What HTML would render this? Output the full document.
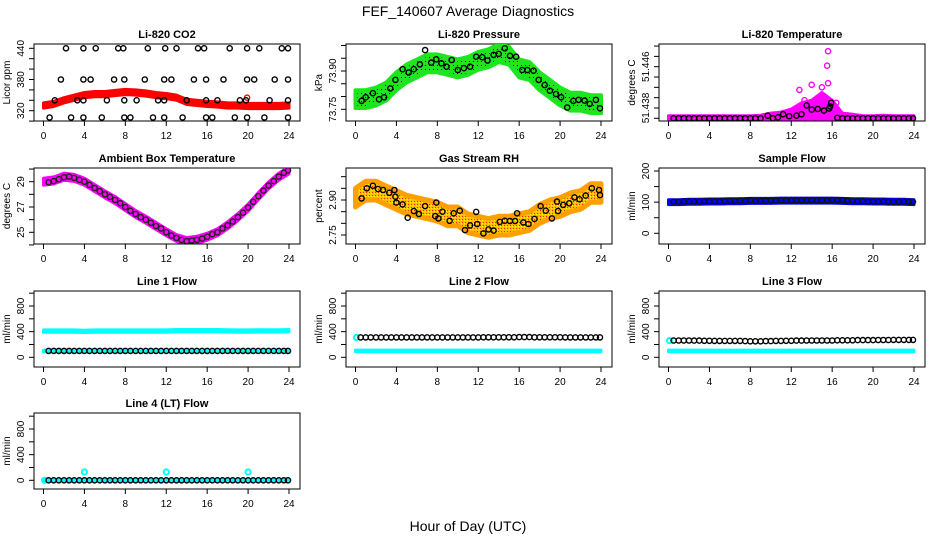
<!DOCTYPE html>
<html><head><meta charset="utf-8"><style>
html,body{margin:0;padding:0;background:#fff}
svg{display:block;font-family:"Liberation Sans",Arial,sans-serif}
</style></head><body>
<svg id="chart" width="936" height="540" viewBox="0 0 936 540" xmlns="http://www.w3.org/2000/svg">
<defs>
<pattern id="pGreen" width="4" height="4" patternUnits="userSpaceOnUse"><rect width="4" height="4" fill="#1ee61e"/><rect x="1" y="1" width="1" height="1" fill="#000"/></pattern>
<pattern id="pOrange" width="3" height="3" patternUnits="userSpaceOnUse"><rect width="3" height="3" fill="#ffc000"/><rect x="0" y="0" width="1" height="1" fill="#ff2000"/><rect x="2" y="1" width="1" height="1" fill="#ffff00"/></pattern>
</defs>
<text x="468" y="16" text-anchor="middle" font-size="14">FEF_140607  Average Diagnostics</text>
<text x="468" y="531" text-anchor="middle" font-size="14">Hour of Day (UTC)</text>
</svg>
<script>
const HOURS=[0,1,2,3,4,5,6,7,8,9,10,11,12,13,14,15,16,17,18,19,20,21,22,23,24];
const HALF=[0.5,1,1.5,2,2.5,3,3.5,4,4.5,5,5.5,6,6.5,7,7.5,8,8.5,9,9.5,10,10.5,11,11.5,12,12.5,13,13.5,14,14.5,15,15.5,16,16.5,17,17.5,18,18.5,19,19.5,20,20.5,21,21.5,22,22.5,23,23.5,23.9];
const X_TICKS=[0,4,8,12,16,20,24];

// CO2
const co2Band=[330,333,340,345,350,352,352,354,356,355,353,350,348,345,337,335,333,332,330,330,329,329,329,329,330];
const co2Hours=[2.2,3.9,5.1,7.3,7.8,10.2,11.9,13.0,15.1,15.7,18.2,19.9,21.1,23.3,23.9,
1.7,3.9,4.6,6.9,7.9,9.9,11.8,12.5,14.7,15.9,17.6,19.9,20.6,22.6,23.9,
1.1,3.3,3.9,6.2,7.9,9.1,11.2,11.8,14.0,15.9,17.0,19.2,19.8,22.1,23.9,
0.6,2.7,3.9,5.7,7.9,8.5,10.7,11.8,13.6,15.9,16.5,18.7,19.9,21.6,23.9];
const co2Vals=[440,440,440,440,440,440,440,440,440,440,440,440,440,440,440,
380,380,380,380,380,380,380,380,380,380,380,380,380,380,380,
340,340,340,340,340,340,340,340,340,340,340,340,340,340,340,
307,307,307,307,307,307,307,307,307,307,307,307,307,307,307];
const co2RedHours=[19.9];
const co2RedVals=[345];

// Pressure
const presBand=[73.79,73.79,73.80,73.82,73.86,73.89,73.91,73.93,73.93,73.92,73.91,73.92,73.94,73.95,73.97,73.96,73.91,73.90,73.86,73.83,73.80,73.78,73.78,73.77,73.77];
const presHours=[0.6,1,1.7,2.3,2.8,3.4,3.9,4.6,5.2,5.7,6.3,6.8,7.4,7.9,8.4,8.9,9.4,10,10.6,11.2,11.8,12.4,12.9,13.5,14,14.6,15.1,15.7,16.3,16.8,17.4,17.9,18.5,19,19.6,20.1,20.7,21.3,21.8,22.4,22.9,23.5,23.9];
const presVals=[73.783,73.797,73.813,73.789,73.797,73.832,73.865,73.907,73.894,73.907,73.926,73.982,73.933,73.946,73.930,73.917,73.943,73.904,73.911,73.917,73.956,73.954,73.941,73.963,73.967,73.989,73.959,73.956,73.904,73.904,73.901,73.865,73.845,73.823,73.810,73.797,73.757,73.783,73.787,73.784,73.771,73.787,73.754];

// Li-820 temperature
const tempLo=[51.4358,51.4358,51.4358,51.4358,51.4358,51.4358,51.4358,51.4358,51.4358,51.4358,51.4358,51.4358,51.4358,51.4358,51.4358,51.4358,51.4358,51.4358,51.4358,51.4358,51.4358,51.4358,51.4358,51.4358,51.4358];
const tempHi=[51.4365,51.4365,51.4365,51.4365,51.4365,51.4365,51.4365,51.4365,51.4365,51.4366,51.437,51.4372,51.4378,51.439,51.4395,51.441,51.4395,51.437,51.4368,51.4365,51.4365,51.4366,51.4365,51.4365,51.4365];
const tempOutHours=[12.8,14.0,15.0,15.5,15.6,15.6,13.3,16.4];
const tempOutVals=[51.4415,51.4425,51.4420,51.4462,51.4490,51.4428,51.4395,51.4390];
const tempHours=[0.5,1,1.5,2,2.5,3,3.5,4,4.5,5,5.5,6,6.5,7,7.5,8,8.5,9,9.7,10.2,10.7,11.2,11.8,12.5,13.0,13.5,14.0,14.6,15.2,15.7,15.8,15.9,16.5,17,17.5,18,18.5,19,19.5,20,20.5,21,21.5,22,22.5,23,23.5,23.9];
const tempVals=[51.436,51.436,51.436,51.436,51.436,51.436,51.436,51.436,51.436,51.436,51.436,51.436,51.436,51.436,51.436,51.436,51.436,51.436,51.4365,51.436,51.4362,51.4368,51.4364,51.4365,51.4368,51.4385,51.4377,51.4378,51.4375,51.4379,51.4383,51.439,51.4361,51.436,51.436,51.436,51.436,51.436,51.436,51.436,51.436,51.436,51.436,51.436,51.436,51.436,51.436,51.436];

// Ambient box temperature
const ambBand=[29.0,29.1,29.4,29.3,29.0,28.5,28.0,27.55,27.0,26.45,26.0,25.5,25.0,24.55,24.3,24.4,24.65,25.0,25.55,26.2,26.95,27.85,28.7,29.4,29.9];
const ambVals=[28.95,29.05,29.2,29.35,29.4,29.3,29.15,29.0,28.75,28.5,28.25,28.0,27.8,27.55,27.3,27.0,26.7,26.45,26.2,26.0,25.75,25.5,25.3,25.0,24.75,24.55,24.4,24.3,24.35,24.4,24.5,24.65,24.85,25.0,25.3,25.55,25.85,26.2,26.55,26.95,27.4,27.85,28.3,28.7,29.05,29.4,29.7,29.9];

// Gas stream RH
const rhBand=[2.91,2.94,2.94,2.92,2.90,2.88,2.87,2.86,2.85,2.83,2.83,2.80,2.79,2.78,2.79,2.79,2.80,2.81,2.84,2.86,2.87,2.89,2.90,2.93,2.93];
const rhHours=[0.6,1.1,1.7,2.2,2.7,3.3,3.8,3.9,4.0,4.6,5.1,5.7,6.2,6.8,7.8,7.9,8.1,8.5,9.2,9.6,10.2,10.7,11.2,11.8,11.9,12.5,13.0,13.5,14.1,14.6,15.1,15.6,15.8,16.4,16.9,17.5,18.1,18.6,19.2,19.7,19.8,20.3,20.9,21.4,21.9,22.5,23.1,23.8,23.9];
const rhVals=[2.907,2.95,2.961,2.947,2.943,2.931,2.943,2.914,2.889,2.881,2.824,2.853,2.84,2.874,2.831,2.889,2.821,2.85,2.811,2.843,2.854,2.771,2.791,2.849,2.797,2.757,2.774,2.769,2.806,2.811,2.81,2.81,2.843,2.804,2.797,2.819,2.874,2.854,2.821,2.893,2.853,2.879,2.886,2.911,2.903,2.919,2.95,2.943,2.921];

// Sample flow
const sampBand=[100,100,101,101,102,102,103,103,104,104,104,105,105,105,105,105,105,104,103,103,102,102,101,101,100];
const sampVals=[101,101,102,102,102,102,103,103,103,103,104,104,104,105,104,105,104,104,105,105,105,106,105,106,106,106,106,106,106,106,106,106,106,106,105,104,103,103,102,103,102,102,101,101,101,102,101,101];

// Line flows
const l1High=[410,410,410,410,405,410,410,410,410,410,410,410,410,415,415,415,415,415,412,410,410,412,412,412,415];
const l1Low=[100,100,100,100,100,100,100,100,100,100,100,100,100,100,100,100,100,100,100,100,100,100,100,100,100];
const l1Vals=[100,100,100,100,100,100,100,100,100,100,100,100,100,100,100,100,100,100,100,100,100,100,100,100,100,100,100,100,100,100,100,100,100,100,100,100,100,100,100,100,100,100,100,100,100,100,100,100];
const l2Low=[100,100,100,100,100,100,100,100,100,100,100,100,100,100,100,100,100,100,100,100,100,100,100,100,100];
const l2Vals=[310,310,310,310,310,310,310,310,310,310,310,310,310,310,310,310,310,310,310,310,310,310,310,310,312,312,312,312,312,312,312,315,315,315,312,312,312,312,312,312,310,310,310,310,310,310,310,310];
const l2CyanHours=[0.1];
const l2CyanVals=[310];
const l3Low=[100,100,100,100,100,100,100,100,100,100,100,100,100,100,100,100,100,100,100,100,100,100,100,100,100];
const l3Vals=[262,262,262,262,260,260,258,258,256,256,256,255,255,255,252,250,250,250,252,252,255,255,258,258,260,260,262,262,262,262,262,262,265,265,265,265,268,268,268,268,270,270,270,272,272,272,272,272];
const l3CyanHours=[0.1];
const l3CyanVals=[260];
const l4Low=[0,0,0,0,0,0,0,0,0,0,0,0,0,0,0,0,0,0,0,0,0,0,0,0,0];
const l4Vals=[0,0,0,0,0,0,0,0,0,0,0,0,0,0,0,0,0,0,0,0,0,0,0,0,0,0,0,0,0,0,0,0,0,0,0,0,0,0,0,0,0,0,0,0,0,0,0,0];
const l4CyanHours=[0.1,4,12,20];
const l4CyanVals=[0,130,130,130];

const NS='http://www.w3.org/2000/svg';
const svg=document.getElementById('chart');
const COLS=[34,346,659];
const ROWS=[[44,121],[168,244],[291,367],[413,489]];
function mk(tag,attrs,parent){const e=document.createElementNS(NS,tag);for(const k in attrs)e.setAttribute(k,attrs[k]);(parent||svg).appendChild(e);return e;}

function panel(p){
  const L=COLS[p.col],R=L+266,T=ROWS[p.row][0],B=ROWS[p.row][1];
  const g=mk('g',{});
  
  
  const sx=h=>L+9.5+h*(245.5/24);
  const sy=v=>p.py0+(v-p.v0)*(p.py1-p.py0)/(p.v1-p.v0);
  // title
  const t=mk('text',{x:(L+R)/2,y:T-6,'text-anchor':'middle','font-size':11,'font-weight':'bold'},g);
  t.textContent=p.title;
  
  
  // frame
  const fr=mk('rect',{x:L,y:T,width:R-L,height:B-T,fill:'none',stroke:'#000','stroke-width':1},g);
  
  
  const cp='clip'+p.name;
  const c=mk('clipPath',{id:cp},g);mk('rect',{x:L,y:T,width:R-L,height:B-T},c);
  const data=mk('g',{'clip-path':'url(#'+cp+')'},g);
  // x axis
  X_TICKS.forEach(h=>{
    mk('line',{x1:sx(h),x2:sx(h),y1:B,y2:B+5,stroke:'#000'},g);
    const tx=mk('text',{x:sx(h),y:B+18,'text-anchor':'middle','font-size':10},g);
    tx.textContent=h;
    
    
  });
  mk('line',{x1:sx(0),x2:sx(24),y1:B,y2:B,stroke:'#000'},g);
  // y axis
  p.ticks.forEach(v=>{const y=sy(v);if(y<T-1||y>B+1)return;mk('line',{x1:L-5,x2:L,y1:y,y2:y,stroke:'#000'},g);});
  p.labels.forEach(v=>{
    const y=sy(v);
    const tl=mk('text',{x:L-10,y:y,'text-anchor':'middle','font-size':10,transform:'rotate(-90 '+(L-10)+' '+y+')'},g);
    tl.textContent=p.fmt?p.fmt(v):v;
    
    
  });
  const yl=mk('text',{x:L-24,y:(T+B)/2,'text-anchor':'middle','font-size':10,transform:'rotate(-90 '+(L-24)+' '+((T+B)/2)+')'},g);
  yl.textContent=p.ylab;
  
  
  // layers
  p.layers.forEach(ly=>{
    if(ly.type==='band'){
      const lo=ly.lo||ly.mid.map(v=>v-ly.w),hi=ly.hi||ly.mid.map(v=>v+ly.w);
      let d='';
      HOURS.forEach((h,i)=>{d+=(i?'L':'M')+sx(h).toFixed(1)+','+sy(hi[i]).toFixed(1);});
      for(let i=HOURS.length-1;i>=0;i--)d+='L'+sx(HOURS[i]).toFixed(1)+','+sy(lo[i]).toFixed(1);
      d+='Z';
      const pa=mk('path',{d:d,fill:ly.fill,stroke:ly.stroke||ly.fill,'stroke-width':ly.sw||3,'stroke-linejoin':'round'},data);
      
      
    } else {
      ly.xs.forEach((h,i)=>{
        const ci=mk('circle',{cx:sx(h).toFixed(1),cy:sy(ly.ys[i]).toFixed(1),r:ly.r||2.6,fill:'none',stroke:ly.color,'stroke-width':ly.sw||1.4},data);
        
        
      });
    }
  });
}
const f3=v=>v.toFixed(3), f2=v=>v.toFixed(2);
panel({name:'co2-panel',col:0,row:0,title:'Li-820 CO2',ylab:'Licor ppm',v0:320,v1:440,py0:110.7,py1:48.3,
  ticks:[300,320,340,360,380,400,420,440],labels:[320,380,440],
  layers:[{type:'band',mid:co2Band,w:5,fill:'#ff0000',name:'co2-raw-band'},
          {type:'pts',xs:co2RedHours,ys:co2RedVals,color:'#ff0000',name:'co2-raw-point'},
          {type:'pts',xs:co2Hours,ys:co2Vals,color:'#000',name:'co2-average-point'}]});
panel({name:'pressure-panel',col:1,row:0,title:'Li-820 Pressure',ylab:'kPa',v0:73.75,v1:73.90,py0:109.3,py1:71,fmt:f2,
  ticks:[73.75,73.80,73.85,73.90,73.95,74.00],labels:[73.75,73.90],
  layers:[{type:'band',mid:presBand,w:0.035,fill:'url(#pGreen)',stroke:'#1ee61e',sw:4,name:'pressure-raw-band'},
          {type:'pts',xs:presHours,ys:presVals,color:'#000',name:'pressure-average-point'}]});
panel({name:'li820-temp-panel',col:2,row:0,title:'Li-820 Temperature',ylab:'degrees C',v0:51.436,v1:51.446,py0:118.3,py1:66.7,fmt:f3,
  ticks:[51.436,51.438,51.440,51.442,51.444,51.446,51.448,51.450],labels:[51.438,51.446],
  layers:[{type:'band',lo:tempLo,hi:tempHi,fill:'#ff00ff',name:'temp-raw-band'},
          {type:'pts',xs:tempOutHours,ys:tempOutVals,color:'#ff00ff',name:'temp-raw-point'},
          {type:'pts',xs:tempHours,ys:tempVals,color:'#000',name:'temp-average-point'}]});
panel({name:'ambient-temp-panel',col:0,row:1,title:'Ambient Box Temperature',ylab:'degrees C',v0:25,v1:29,py0:232.3,py1:181.7,
  ticks:[24,25,26,27,28,29,30],labels:[25,27,29],
  layers:[{type:'band',mid:ambBand,w:0.28,fill:'#ff00ff',name:'ambient-raw-band'},
          {type:'pts',xs:HALF,ys:ambVals,color:'#222',name:'ambient-average-point'}]});
panel({name:'rh-panel',col:1,row:1,title:'Gas Stream RH',ylab:'percent',v0:2.75,v1:2.90,py0:235,py1:200,fmt:f2,
  ticks:[2.75,2.80,2.85,2.90,2.95,3.00],labels:[2.75,2.90],
  layers:[{type:'band',mid:rhBand,w:0.04,fill:'url(#pOrange)',stroke:'#ffa000',sw:5,name:'rh-raw-band'},
          {type:'pts',xs:rhHours,ys:rhVals,color:'#000',name:'rh-average-point'}]});
panel({name:'sample-flow-panel',col:2,row:1,title:'Sample Flow',ylab:'ml/min',v0:0,v1:200,py0:233.3,py1:171,
  ticks:[0,50,100,150,200],labels:[0,100,200],
  layers:[{type:'band',mid:sampBand,w:8,fill:'#0000ff',name:'sample-raw-band'},
          {type:'pts',xs:HALF,ys:sampVals,color:'#111',name:'sample-average-point'}]});
const flowTicks=[0,200,400,600,800,1000], flowLabels=[0,400,800];
panel({name:'line1-panel',col:0,row:2,title:'Line 1 Flow',ylab:'ml/min',v0:0,v1:800,py0:357.3,py1:306,ticks:flowTicks,labels:flowLabels,
  layers:[{type:'band',mid:l1High,w:18,fill:'#00ffff',name:'line1-high-band'},
          {type:'band',mid:l1Low,w:12,fill:'#00ffff',name:'line1-low-band'},
          {type:'pts',xs:HALF,ys:l1Vals,color:'#000',name:'line1-average-point'}]});
panel({name:'line2-panel',col:1,row:2,title:'Line 2 Flow',ylab:'ml/min',v0:0,v1:800,py0:357.3,py1:306,ticks:flowTicks,labels:flowLabels,
  layers:[{type:'band',mid:l2Low,w:12,fill:'#00ffff',name:'line2-low-band'},
          {type:'pts',xs:l2CyanHours,ys:l2CyanVals,color:'#00ffff',sw:2,name:'line2-raw-point'},
          {type:'pts',xs:HALF,ys:l2Vals,color:'#000',name:'line2-average-point'}]});
panel({name:'line3-panel',col:2,row:2,title:'Line 3 Flow',ylab:'ml/min',v0:0,v1:800,py0:357.3,py1:306,ticks:flowTicks,labels:flowLabels,
  layers:[{type:'band',mid:l3Low,w:12,fill:'#00ffff',name:'line3-low-band'},
          {type:'pts',xs:l3CyanHours,ys:l3CyanVals,color:'#00ffff',sw:2,name:'line3-raw-point'},
          {type:'pts',xs:HALF,ys:l3Vals,color:'#000',name:'line3-average-point'}]});
panel({name:'line4-panel',col:0,row:3,title:'Line 4 (LT) Flow',ylab:'ml/min',v0:0,v1:800,py0:480.3,py1:429,ticks:flowTicks,labels:flowLabels,
  layers:[{type:'band',mid:l4Low,w:10,fill:'#00ffff',name:'line4-raw-band'},
          {type:'pts',xs:l4CyanHours,ys:l4CyanVals,color:'#00ffff',sw:2,name:'line4-raw-point'},
          {type:'pts',xs:HALF,ys:l4Vals,color:'#000',name:'line4-average-point'}]});
</script>
</body></html>
